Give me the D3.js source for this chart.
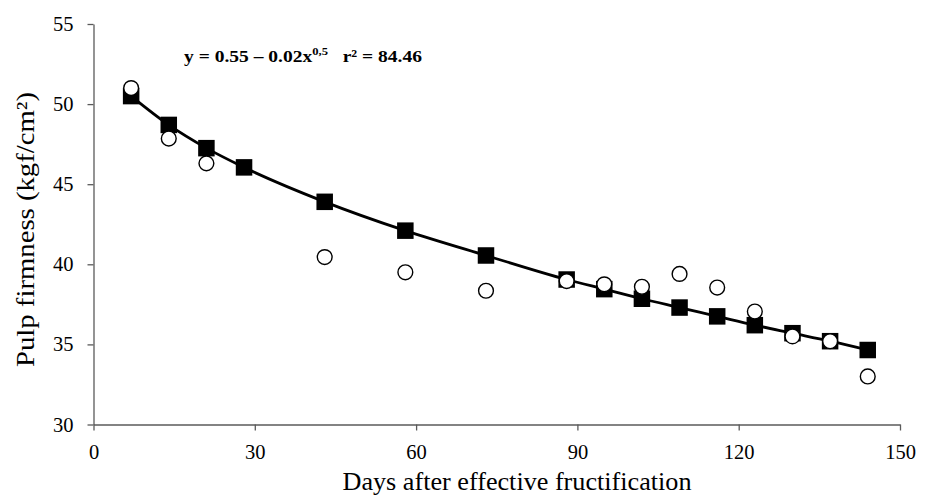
<!DOCTYPE html>
<html><head><meta charset="utf-8">
<script src="https://cdn.jsdelivr.net/npm/d3@7"></script>
<style>body{margin:0;background:#fff}svg{display:block} svg text{font-family:"Liberation Serif",serif}</style>
</head><body>
<svg id="c" width="930" height="495"></svg>
<script>
const days = [7,14,21,28,43,58,73,88,95,102,109,116,123,130,137,144];
const fitted = [50.5,48.7,47.25,46.05,43.9,42.1,40.55,39.05,38.45,37.85,37.3,36.75,36.2,35.7,35.2,34.65];
const observed = [51.0,47.85,46.3,null,40.45,39.5,38.35,38.95,38.75,38.6,39.4,38.55,37.05,35.5,35.2,33.0];
const xTicks = [0,30,60,90,120,150];
const yTicks = [30,35,40,45,50,55];

const svg = d3.select("#c");
const x = d3.scaleLinear().domain([0,150]).range([93.5,900]);
const y = d3.scaleLinear().domain([30,55]).range([424.5,24]);
const font = "Liberation Serif, serif";

const gx = svg.append("g").attr("transform","translate(0,424.5)")
  .call(d3.axisBottom(x).tickValues(xTicks).tickSize(6).tickPadding(14).tickSizeOuter(0));
const gy = svg.append("g").attr("transform","translate(93.5,0)")
  .call(d3.axisLeft(y).tickValues(yTicks).tickSize(6).tickPadding(14).tickSizeOuter(0));
[gx,gy].forEach(g=>{
  g.attr("font-family",font);
  g.selectAll("path,line").attr("stroke","#5a5a5a").attr("stroke-width",1.3);
  g.selectAll("text").attr("fill","#000").style("font-family",font).style("font-size","20.5px");
});

const line = d3.line().x((d,i)=>x(days[i])).y(d=>y(d)).curve(d3.curveMonotoneX);
svg.append("path").datum(fitted).attr("d",line).attr("fill","none")
  .attr("stroke","#000").attr("stroke-width",2.8);

const s = 16.5;
svg.selectAll("rect.sq").data(fitted).join("rect").attr("class","sq")
  .attr("x",(d,i)=>x(days[i])-s/2).attr("y",d=>y(d)-s/2)
  .attr("width",s).attr("height",s).attr("fill","#000");

svg.selectAll("circle.ob").data(observed.map((v,i)=>({d:days[i],v})).filter(o=>o.v!=null))
  .join("circle").attr("class","ob")
  .attr("cx",o=>x(o.d)).attr("cy",o=>y(o.v)).attr("r",7.4)
  .attr("fill","#fff").attr("stroke","#000").attr("stroke-width",1.4);

const eq = svg.append("text").attr("x",184).attr("y",62)
  .style("font-family",font).style("font-size","17px").style("font-weight","bold")
  .attr("textLength",238).attr("lengthAdjust","spacingAndGlyphs");
eq.append("tspan").text("y = 0.55 – 0.02x");
eq.append("tspan").attr("dy",-7).style("font-size","11px").text("0,5");
eq.append("tspan").attr("dy",7).text("\u00a0\u00a0 r² = 84.46");

svg.append("text").attr("x",517).attr("y",490).attr("text-anchor","middle")
  .style("font-family",font).style("font-size","25px")
  .attr("textLength",349).attr("lengthAdjust","spacingAndGlyphs")
  .text("Days after effective fructification");
svg.append("text").attr("transform","translate(34,229.5) rotate(-90)").attr("text-anchor","middle")
  .style("font-family",font).style("font-size","25px")
  .attr("textLength",275).attr("lengthAdjust","spacingAndGlyphs")
  .text("Pulp firmness (kgf/cm²)");
</script>
</body></html>
